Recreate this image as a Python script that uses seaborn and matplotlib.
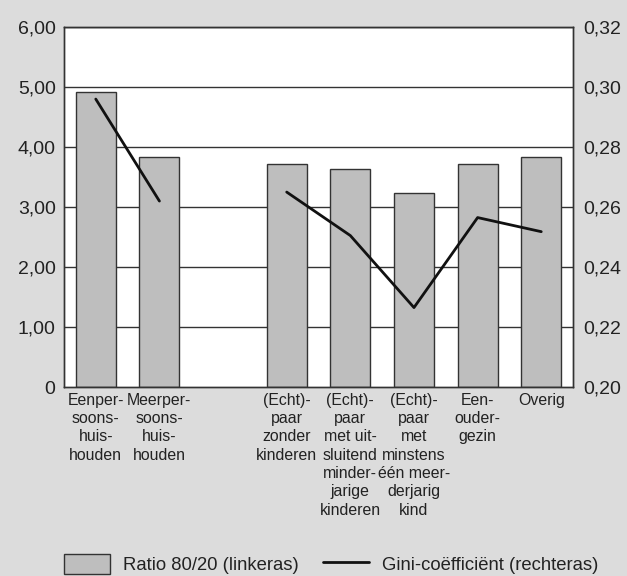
import matplotlib
matplotlib.use("Agg")
import matplotlib.pyplot as plt
import matplotlib.patches as mpatches
import matplotlib.lines as mlines
import pandas as pd
import seaborn as sns

# Data
categories = [
    "Eenper-\nsoons-\nhuis-\nhouden",
    "Meerper-\nsoons-\nhuis-\nhouden",
    " ",
    "(Echt)-\npaar\nzonder\nkinderen",
    "(Echt)-\npaar\nmet uit-\nsluitend\nminder-\njarige\nkinderen",
    "(Echt)-\npaar\nmet\nminstens\néén meer-\nderjarig\nkind",
    "Een-\nouder-\ngezin",
    "Overig",
]
ratio_8020 = [4.91, 3.83, None, 3.71, 3.64, 3.24, 3.72, 3.83]
gini = [0.296, 0.262, None, 0.265, 0.2505, 0.2265, 0.2565, 0.2518]

left_ticks = [0, 1, 2, 3, 4, 5, 6]
left_labels = ["0", "1,00", "2,00", "3,00", "4,00", "5,00", "6,00"]
right_ticks = [0.20, 0.22, 0.24, 0.26, 0.28, 0.30, 0.32]
right_labels = ["0,20", "0,22", "0,24", "0,26", "0,28", "0,30", "0,32"]

sns.set_style("white")
plt.rcParams["font.family"] = ["Liberation Sans", "DejaVu Sans"]
plt.rcParams["text.color"] = "#222222"
plt.rcParams["xtick.color"] = "#222222"
plt.rcParams["ytick.color"] = "#222222"

df = pd.DataFrame({"cat": categories, "ratio": ratio_8020, "gini": gini})
df_bars = df.dropna(subset=["ratio"])

fig = plt.figure(figsize=(6.27, 5.76), dpi=100)
fig.patch.set_facecolor("#dcdcdc")
ax = fig.add_axes([0.102, 0.328, 0.812, 0.625])
ax.set_facecolor("white")

# Gridlines
for t in left_ticks[1:]:
    ax.axhline(t, color="#333333", linewidth=1, zorder=0)

sns.barplot(data=df_bars, x="cat", y="ratio", order=categories, color="#bebebe",
            edgecolor="#333333", linewidth=1, width=0.63, saturation=1, ax=ax, zorder=2)
ax.set_xlim(-0.5, len(categories) - 0.5)
ax.set_ylim(0, 6)
ax.set_yticks(left_ticks)
ax.set_yticklabels(left_labels, fontsize=14)
ax.tick_params(axis="x", labelsize=11.4, length=0, pad=4)
ax.tick_params(axis="y", length=0, pad=6)
ax.set_xlabel("")
ax.set_ylabel("")

ax2 = ax.twinx()
pos = {c: i for i, c in enumerate(categories)}
seg1 = df.iloc[0:2]
seg2 = df.iloc[3:]
sns.lineplot(x=[pos[c] for c in seg1["cat"]], y=seg1["gini"], color="#111111", linewidth=2, ax=ax2)
sns.lineplot(x=[pos[c] for c in seg2["cat"]], y=seg2["gini"], color="#111111", linewidth=2, ax=ax2)
ax2.set_ylim(0.20, 0.32)
ax2.set_yticks(right_ticks)
ax2.set_yticklabels(right_labels, fontsize=14)
ax2.tick_params(axis="y", length=0, pad=7)
ax2.set_ylabel("")

for a in (ax, ax2):
    for s in a.spines.values():
        s.set_color("#333333")
        s.set_linewidth(1)

# Multi-line category labels centered
for lbl in ax.get_xticklabels():
    lbl.set_multialignment("center")
    lbl.set_linespacing(1.28)

bar_handle = mpatches.Patch(facecolor="#bebebe", edgecolor="#333333", label="Ratio 80/20 (linkeras)")
line_handle = mlines.Line2D([], [], color="#111111", linewidth=2, label="Gini-coëfficiënt (rechteras)")
fig.legend(handles=[bar_handle, line_handle], loc="lower left", ncol=2, frameon=False,
           fontsize=13.3, bbox_to_anchor=(64 / 627, 2 / 576), borderpad=0, borderaxespad=0,
           handlelength=2.5, handleheight=1.25, handletextpad=0.7, columnspacing=1.3)

fig.savefig("out.png", dpi=100, facecolor=fig.get_facecolor())
